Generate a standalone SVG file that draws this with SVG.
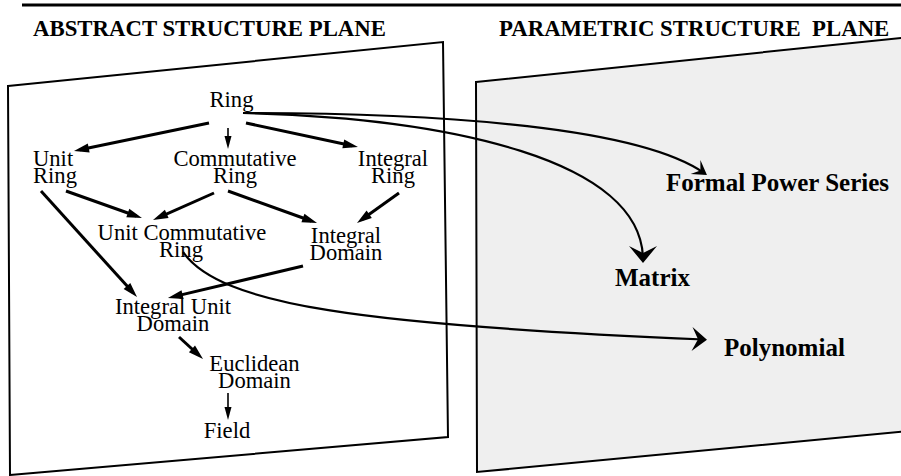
<svg xmlns="http://www.w3.org/2000/svg" width="901" height="476" viewBox="0 0 901 476">
<style>
  .plane { stroke: #000; stroke-width: 2; stroke-linejoin: miter; }
  .title { font-family: "Liberation Serif", "Times New Roman", serif; font-weight: bold; font-size: 22.8px; fill: #000; }
  .node { font-family: "Liberation Serif", "Times New Roman", serif; font-size: 22.6px; fill: #000; text-anchor: middle; }
  .pnode { font-family: "Liberation Serif", "Times New Roman", serif; font-weight: bold; font-size: 25px; fill: #000; }
  .thick { stroke: #000; stroke-width: 3; fill: none; marker-end: url(#ah); }
  .thin { stroke: #000; stroke-width: 1.6; fill: none; marker-end: url(#ahs); }
  .curve { stroke: #000; stroke-width: 2.2; fill: none; }
</style>
<defs>
  <marker id="ah" markerUnits="userSpaceOnUse" viewBox="-16 -6 18 12" refX="-6" refY="0" markerWidth="18" markerHeight="12" orient="auto">
    <path d="M0,0 L-15,-4.5 L-15,4.5 Z" fill="#000"/>
  </marker>
  <marker id="ahs" markerUnits="userSpaceOnUse" viewBox="-14 -5 16 10" refX="-4" refY="0" markerWidth="16" markerHeight="10" orient="auto">
    <path d="M0,0 L-13,-3.5 L-13,3.5 Z" fill="#000"/>
  </marker>
  <marker id="ahbig" markerUnits="userSpaceOnUse" viewBox="-18 -14 20 28" refX="-3" refY="0" markerWidth="20" markerHeight="28" orient="auto">
    <path d="M0,0 L-17,-14 L-10,0 L-17,14 Z" fill="#000"/>
  </marker>
  <marker id="ahpoly" markerUnits="userSpaceOnUse" viewBox="-17 -13 19 26" refX="-3" refY="0" markerWidth="19" markerHeight="26" orient="auto">
    <path d="M0,0 L-15,-12 L-9,0 L-15,12 Z" fill="#000"/>
  </marker>
  <marker id="ahmid" markerUnits="userSpaceOnUse" viewBox="-16 -10 18 20" refX="-3" refY="0" markerWidth="18" markerHeight="20" orient="auto">
    <path d="M0,0 L-14,-8.5 L-8,0 L-14,8.5 Z" fill="#000"/>
  </marker>
</defs>

<line x1="22" y1="5" x2="901" y2="5" stroke="#000" stroke-width="3"/>

<g id="planes">
  <polygon class="plane" points="476,82 910,37 910,431 477,472" fill="#efefef"/>
  <polygon class="plane" points="8,86 443,42 448,437 10,475" fill="#fff"/>
</g>

<g id="titles">
  <text class="title" x="33" y="36">ABSTRACT STRUCTURE PLANE</text>
  <text class="title" x="499" y="36" xml:space="preserve">PARAMETRIC STRUCTURE  PLANE</text>
</g>

<g id="connectors">
  <line class="thick" x1="209" y1="123" x2="79.9" y2="149.8"/>
  <line class="thin" x1="228" y1="128" x2="228" y2="145"/>
  <line class="thick" x1="246" y1="123" x2="352.1" y2="145.7"/>
  <line class="thick" x1="66" y1="191" x2="136.3" y2="216"/>
  <line class="thick" x1="214" y1="193" x2="158.5" y2="217.6"/>
  <line class="thick" x1="41" y1="191" x2="133" y2="292.6"/>
  <line class="thick" x1="228" y1="191" x2="311.4" y2="221"/>
  <line class="thick" x1="399" y1="193" x2="361.9" y2="219.5"/>
  <line class="thick" x1="303" y1="266" x2="173.8" y2="296.6"/>
  <line class="thick" x1="179" y1="337" x2="198.6" y2="355"/>
  <line class="thin" x1="228" y1="393" x2="228" y2="416"/>
  <path class="curve" d="M243,113 C450,113 640,128 704.5,173.3" marker-end="url(#ahmid)"/>
  <path class="curve" d="M243,113 C450,118 643,160 643,260" marker-end="url(#ahbig)"/>
  <path class="curve" d="M183,252 C220,305 360,325 704,339.5" marker-end="url(#ahpoly)"/>
</g>

<g id="ring"><text class="node" x="231.5" y="107">Ring</text></g>
<g id="unit-ring">
  <text class="node" x="33" y="166" style="text-anchor:start">Unit</text>
  <text class="node" x="33" y="183" style="text-anchor:start">Ring</text>
</g>
<g id="commutative-ring">
  <text class="node" x="235" y="166">Commutative</text>
  <text class="node" x="235" y="183">Ring</text>
</g>
<g id="integral-ring">
  <text class="node" x="393" y="166">Integral</text>
  <text class="node" x="393" y="183">Ring</text>
</g>
<g id="unit-commutative-ring">
  <text class="node" x="182" y="240">Unit Commutative</text>
  <text class="node" x="181" y="257">Ring</text>
</g>
<g id="integral-domain">
  <text class="node" x="346" y="243">Integral</text>
  <text class="node" x="346" y="260">Domain</text>
</g>
<g id="integral-unit-domain">
  <text class="node" x="173" y="314">Integral Unit</text>
  <text class="node" x="173" y="331">Domain</text>
</g>
<g id="euclidean-domain">
  <text class="node" x="254.5" y="371">Euclidean</text>
  <text class="node" x="254.5" y="388">Domain</text>
</g>
<g id="field"><text class="node" x="227" y="438">Field</text></g>

<g id="formal-power-series"><text class="pnode" x="666" y="191">Formal Power Series</text></g>
<g id="matrix"><text class="pnode" x="615" y="286">Matrix</text></g>
<g id="polynomial"><text class="pnode" x="724" y="356">Polynomial</text></g>
</svg>
